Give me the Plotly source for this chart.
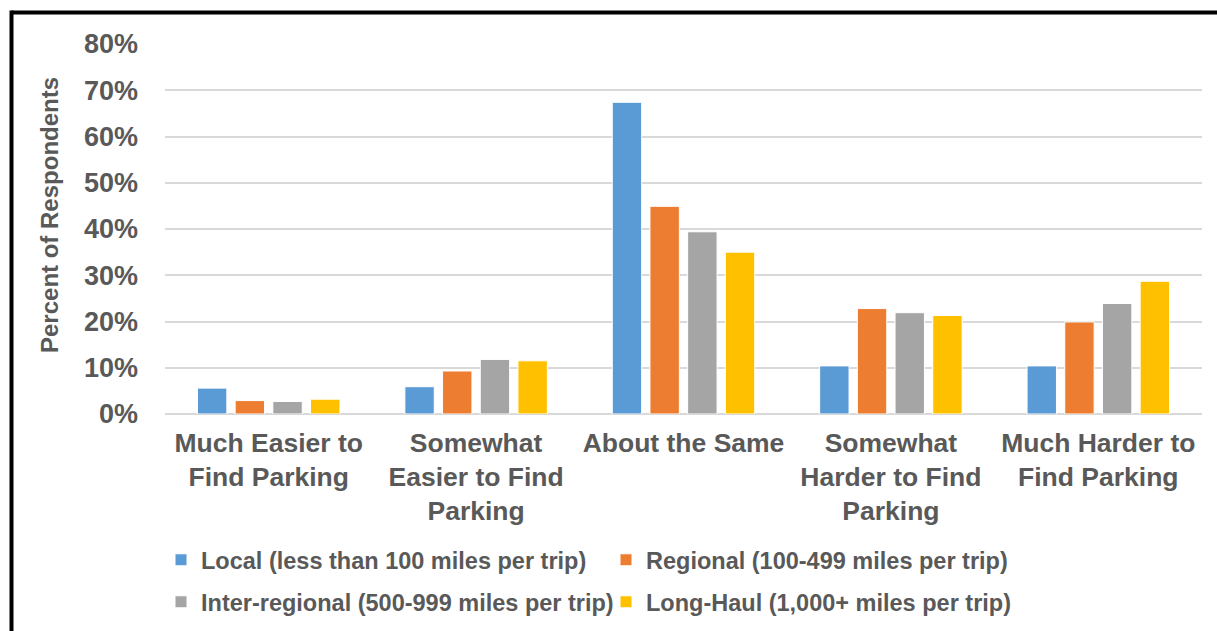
import plotly.graph_objects as go

categories = [
    "Much Easier to<br>Find Parking",
    "Somewhat<br>Easier to Find<br>Parking",
    "About the Same",
    "Somewhat<br>Harder to Find<br>Parking",
    "Much Harder to<br>Find Parking",
]
series_names = [
    "Local (less than 100 miles per trip)",
    "Regional (100-499 miles per trip)",
    "Inter-regional (500-999 miles per trip)",
    "Long-Haul (1,000+ miles per trip)",
]
local_vals = [0.056, 0.059, 0.674, 0.104, 0.104]
regional_vals = [0.029, 0.093, 0.449, 0.228, 0.199]
interregional_vals = [0.027, 0.118, 0.394, 0.219, 0.239]
longhaul_vals = [0.032, 0.115, 0.350, 0.213, 0.287]
colors = ["#5B9BD5", "#ED7D31", "#A5A5A5", "#FFC000"]
y_ticks = [0, 0.1, 0.2, 0.3, 0.4, 0.5, 0.6, 0.7, 0.8]

W, H = 1217, 631
L, R, T, B = 165, 15, 44, 217
FONT = "Liberation Sans, Arial, sans-serif"
GREY = "#595959"

fig = go.Figure()
all_vals = [local_vals, regional_vals, interregional_vals, longhaul_vals]
legend_ids = ["legend", "legend", "legend2", "legend2"]
for name, vals, col, lg in zip(series_names, all_vals, colors, legend_ids):
    fig.add_trace(go.Bar(
        x=categories, y=vals, name=name,
        marker=dict(color=col, line=dict(color="white", width=1)),
        legend=lg,
    ))

pw = W - L - R
ph = H - T - B

def px_x(p):
    return (p - L) / pw

def px_y(p):
    return (H - B - p) / ph

legend_common = dict(
    orientation="h", xref="container", yref="container",
    xanchor="left", yanchor="middle",
    font=dict(family=FONT, size=23.5, color=GREY, weight="bold"),
    entrywidth=400, entrywidthmode="pixels",
    bgcolor="rgba(0,0,0,0)", borderwidth=0,
    traceorder="normal",
)

fig.update_layout(
    width=W, height=H,
    margin=dict(l=L, r=R, t=T, b=B, autoexpand=False),
    paper_bgcolor="white", plot_bgcolor="white",
    barmode="group", bargap=0.273, bargroupgap=0.22,
    font=dict(family=FONT, color=GREY),
    showlegend=True,
    legend=dict(x=161 / W, y=1 - 560 / H, **legend_common),
    legend2=dict(x=161 / W, y=1 - 602 / H, **legend_common),
    xaxis=dict(
        tickfont=dict(family=FONT, size=26.5, color=GREY, weight="bold"),
        showgrid=False, showline=False, zeroline=False,
        ticks="", ticklabelstandoff=10, automargin=False,
    ),
    yaxis=dict(
        range=[0, 0.8], tickvals=y_ticks, tickformat=".0%",
        tickfont=dict(family=FONT, size=27, color=GREY, weight="bold"),
        showgrid=True, gridcolor="#D9D9D9", gridwidth=1.5,
        zeroline=True, zerolinecolor="#D9D9D9", zerolinewidth=1.5,
        showline=False, ticks="", ticklabelstandoff=26, automargin=False,
    ),
    annotations=[dict(
        text="Percent of Respondents", textangle=-90,
        xref="paper", yref="paper", x=px_x(49), y=px_y(215),
        xanchor="center", yanchor="middle", showarrow=False,
        font=dict(family=FONT, size=24, color=GREY, weight="bold"),
    )],
    shapes=[
        dict(type="line", xref="paper", yref="paper",
             x0=px_x(11.5), x1=px_x(W + 5), y0=px_y(12.5), y1=px_y(12.5),
             line=dict(color="black", width=4)),
        dict(type="line", xref="paper", yref="paper",
             x0=px_x(11.5), x1=px_x(11.5), y0=px_y(10.5), y1=px_y(H + 5),
             line=dict(color="black", width=4)),
    ],
)

fig.write_html("out.html")
